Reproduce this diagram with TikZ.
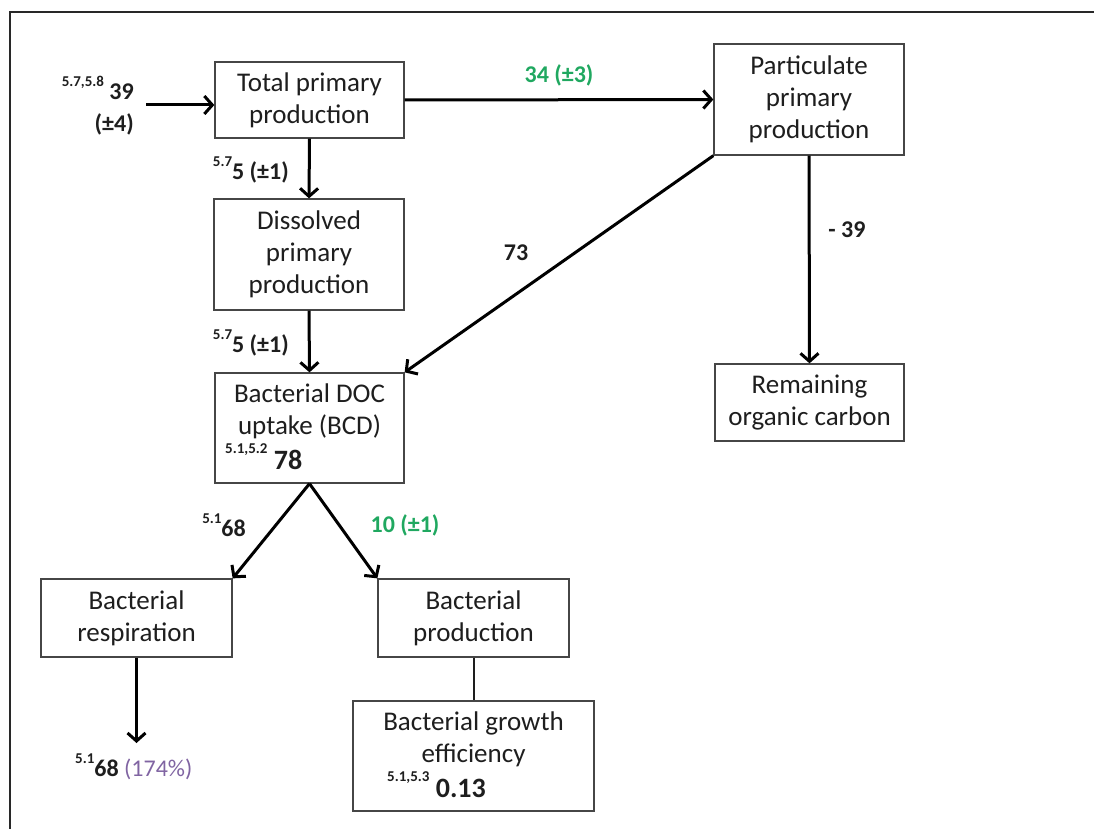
\documentclass[tikz,border=0pt]{standalone}
\usepackage{fontspec}
\setmainfont{Carlito}
\usetikzlibrary{arrows.meta}
\definecolor{ink}{RGB}{30,30,30}
\definecolor{boxline}{RGB}{70,70,70}
\definecolor{framegray}{RGB}{40,40,40}
\definecolor{flowgreen}{RGB}{32,168,96}
\definecolor{pctpurple}{RGB}{128,100,162}
% small raised reference numbers in front of a value
\newcommand\supnum[1]{\raisebox{0.55em}{\fontsize{15}{15}\selectfont #1}}

\begin{document}
\begin{tikzpicture}[x=1pt,y=-1pt,
  boxfont/.style={font=\fontsize{27}{32}\selectfont},
  box/.style={draw=boxline, line width=1.3pt, fill=white, inner sep=0pt,
    align=center, text=ink, boxfont},
  boxtext/.style={inner sep=0pt, align=center, text=ink, boxfont},
  flow/.style={line width=3pt, draw=black,
    -{Straight Barb[length=8pt,width=18pt]}},
  val/.style={inner sep=0pt, text=ink, font=\fontsize{24}{32}\selectfont\bfseries},
  greenval/.style={val, text=flowgreen},
  bigval/.style={inner sep=0pt, text=ink, font=\fontsize{28}{32}\selectfont\bfseries}
]
\useasboundingbox (0,0) rectangle (1094,829);
% page frame
\draw[line width=2.5pt, framegray] (10,829) -- (10,12) -- (1094,12);

% boxes
\node[box, minimum width=189pt, minimum height=76pt] (tpp) at (309.5,100)
  {Total primary\\production};
\node[box, minimum width=190pt, minimum height=111pt] (ppp) at (809,99.5)
  {Particulate\\primary\\production};
\node[box, minimum width=190pt, minimum height=111pt] (dpp) at (309,254.5)
  {Dissolved\\primary\\production};
\node[box, minimum width=189pt, minimum height=110pt] (bcd) at (309.5,428) {};
\node[boxtext] (bcdtext) at (309.5,411) {Bacterial DOC\\uptake (BCD)};
\node[bigval, anchor=base west] (bcdval) at (225,469)
  {\supnum{5.1,5.2} 78};
\node[box, minimum width=189pt, minimum height=77pt] (roc) at (809.5,402.5)
  {Remaining\\organic carbon};
\node[box, minimum width=191pt, minimum height=78pt] (br) at (136.5,618)
  {Bacterial\\respiration};
\node[box, minimum width=191pt, minimum height=78pt] (bp) at (473.5,618)
  {Bacterial\\production};
\node[box, minimum width=241pt, minimum height=110pt] (bge) at (473.5,756) {};
\node[boxtext] (bgetext) at (473.5,739) {Bacterial growth\\efficiency};
\node[bigval, anchor=base west] (bgeval) at (387,797)
  {\supnum{5.1,5.3} 0.13};

% free ends
\coordinate (src) at (146,105);
\coordinate (sink) at (136.5,743);

% connectors
\draw[flow] (src) -- (src -| tpp.west);
\draw[flow] (tpp.east) -- (ppp.west);
\draw[flow] (tpp.south) -- (dpp.north);
\draw[flow] (dpp.south) -- (bcd.north);
\draw[flow] (ppp.south west) -- (bcd.north east);
\draw[flow] (ppp.south) -- (roc.north);
\draw[flow] (bcd.south) -- (br.north east);
\draw[flow] (bcd.south) -- (bp.north west);
\draw[flow] (br.south) -- (sink);
\draw[line width=2pt, ink] (bp.south) -- (bge.north);

% flow values
\node[val, anchor=east, align=right] (inval) at (134,106)
  {\supnum{5.7,5.8} 39\\(±4)};
\node[greenval] (ppval) at (559,75) {34 (±3)};
\node[val, anchor=east] (dpval) at (289,170) {\supnum{5.7}5 (±1)};
\node[val, anchor=east] (docval) at (289,343) {\supnum{5.7}5 (±1)};
\node[val] (pocval) at (516,253) {73};
\node[val] (rocval) at (847,230) {- 39};
\node[val, anchor=east] (resval) at (246,525) {\supnum{5.1}68};
\node[greenval] (prodval) at (405,525) {10 (±1)};
\node[val, anchor=west] (outval) at (75,767)
  {\supnum{5.1}68 {\mdseries\color{pctpurple}(174\%)}};
\end{tikzpicture}
\end{document}
